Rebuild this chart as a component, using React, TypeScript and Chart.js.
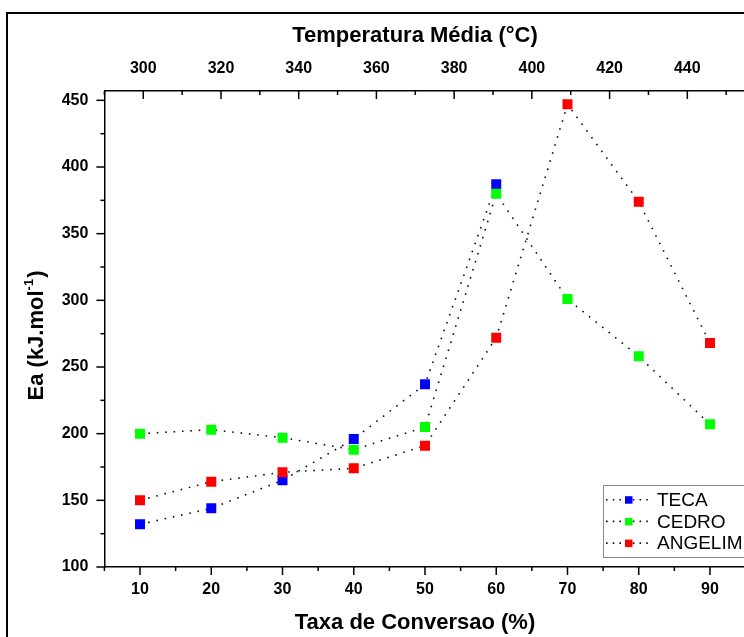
import React, { useEffect, useRef } from "react";
import { Chart, registerables } from "chart.js";

Chart.register(...registerables);

// ---- data ----
const conversion = [10, 20, 30, 40, 50, 60, 70, 80, 90];
const tecaEa = [132, 144, 165, 196, 237, 387];
const cedroEa = [200, 203, 197, 188, 205, 380, 301, 258, 207];
const angelimEa = [150, 164, 171, 174, 191, 272, 447, 374, 268];

const seriesNames = ["TECA", "CEDRO", "ANGELIM"];
const seriesColors = ["#0000ff", "#00ff00", "#ff0000"];

const xTicks = [10, 20, 30, 40, 50, 60, 70, 80, 90];
const xMinorTicks = [5, 15, 25, 35, 45, 55, 65, 75, 85, 95];
const yTicks = [100, 150, 200, 250, 300, 350, 400, 450];
const yMinorTicks = [125, 175, 225, 275, 325, 375, 425];
const tempTicks = [300, 320, 340, 360, 380, 400, 420, 440];
const tempMinorTicks = [290, 310, 330, 350, 370, 390, 410, 430, 450];

const xTitle = "Taxa de Conversao (%)";
const topTitle = "Temperatura Média (°C)";
const yTitleMain = "Ea (kJ.mol";
const yTitleSup = "-1";
const yTitleEnd = ")";

const FONT = "Arial, 'Liberation Sans', sans-serif";
const CW = 760;
const CH = 660;

const toPoints = (ys: number[]) => ys.map((y, i) => ({ x: conversion[i], y }));

const decorPlugin = {
  id: "decor",
  afterDraw(chart: any) {
    const ctx = chart.ctx as CanvasRenderingContext2D;
    const x = chart.scales.x;
    const x2 = chart.scales.x2;
    const y = chart.scales.y;
    const area = chart.chartArea;
    ctx.save();

    // outer frame
    ctx.strokeStyle = "#000";
    ctx.lineWidth = 2;
    ctx.strokeRect(7, 13, 900, 800);

    // ticks
    ctx.lineWidth = 1.5;
    ctx.strokeStyle = "#000";
    const line = (a: number, b: number, c: number, d: number) => {
      ctx.beginPath();
      ctx.moveTo(a, b);
      ctx.lineTo(c, d);
      ctx.stroke();
    };
    xTicks.forEach((v) => {
      const p = x.getPixelForValue(v);
      line(p, area.bottom, p, area.bottom + 8);
    });
    xMinorTicks.forEach((v) => {
      const p = x.getPixelForValue(v);
      line(p, area.bottom, p, area.bottom + 4);
    });
    tempTicks.forEach((v) => {
      const p = x2.getPixelForValue(v);
      line(p, area.top, p, area.top + 8);
    });
    tempMinorTicks.forEach((v) => {
      const p = x2.getPixelForValue(v);
      line(p, area.top, p, area.top + 4);
    });
    yTicks.forEach((v) => {
      const p = y.getPixelForValue(v);
      line(area.left - 8, p, area.left, p);
    });
    yMinorTicks.forEach((v) => {
      const p = y.getPixelForValue(v);
      line(area.left - 4, p, area.left, p);
    });

    // titles
    ctx.fillStyle = "#000";
    ctx.font = `bold 22px ${FONT}`;
    ctx.textAlign = "center";
    ctx.textBaseline = "middle";
    ctx.fillText(topTitle, 415, 36);
    ctx.fillText(xTitle, 415, 623);

    // y title with superscript
    ctx.save();
    ctx.translate(37, 336);
    ctx.rotate(-Math.PI / 2);
    ctx.textAlign = "left";
    ctx.font = `bold 22px ${FONT}`;
    const w1 = ctx.measureText(yTitleMain).width;
    const w3 = ctx.measureText(yTitleEnd).width;
    ctx.font = `bold 13px ${FONT}`;
    const w2 = ctx.measureText(yTitleSup).width;
    const start = -(w1 + w2 + w3) / 2;
    ctx.font = `bold 22px ${FONT}`;
    ctx.fillText(yTitleMain, start, 0);
    ctx.font = `bold 13px ${FONT}`;
    ctx.fillText(yTitleSup, start + w1, -8);
    ctx.font = `bold 22px ${FONT}`;
    ctx.fillText(yTitleEnd, start + w1 + w2 + 1, 0);
    ctx.restore();

    // legend
    ctx.strokeStyle = "#8a8a8a";
    ctx.lineWidth = 1;
    ctx.strokeRect(603.5, 485.5, 200, 72);
    seriesNames.forEach((name, i) => {
      const cy = 499.7 + i * 21.7;
      ctx.save();
      ctx.strokeStyle = "#111";
      ctx.lineWidth = 1.6;
      ctx.setLineDash([1.6, 5.1]);
      ctx.beginPath();
      ctx.moveTo(606, cy);
      ctx.lineTo(652, cy);
      ctx.stroke();
      ctx.restore();
      ctx.fillStyle = seriesColors[i];
      ctx.fillRect(625, cy - 3.5, 7.5, 7.5);
      ctx.fillStyle = "#000";
      ctx.font = `19px ${FONT}`;
      ctx.textAlign = "left";
      ctx.textBaseline = "middle";
      ctx.fillText(name, 657, cy + 1);
    });

    ctx.restore();
  },
};

export default function App() {
  const ref = useRef<HTMLCanvasElement | null>(null);

  useEffect(() => {
    document.body.style.margin = "0";
    const canvas = ref.current;
    if (!canvas) return;
    const seriesData = [tecaEa, cedroEa, angelimEa];
    const orders = [3, 2, 1];
    const tickFont = { family: FONT, size: 16, weight: "bold" as const };
    const chart = new Chart(canvas, {
      type: "scatter",
      data: {
        datasets: seriesData.map((ys, i) => ({
          label: seriesNames[i],
          data: toPoints(ys),
          showLine: true,
          order: orders[i],
          borderColor: "#111",
          borderWidth: 1.6,
          borderDash: [1.6, 6.8],
          tension: 0,
          fill: false,
          pointStyle: "rect",
          pointRadius: 7.07,
          pointHoverRadius: 7.07,
          pointBackgroundColor: seriesColors[i],
          pointBorderColor: seriesColors[i],
          pointBorderWidth: 0,
          xAxisID: "x",
          yAxisID: "y",
        })),
      },
      options: {
        animation: false,
        responsive: false,
        devicePixelRatio: 1,
        layout: { padding: { left: 0, top: 0, right: CW - 745.6, bottom: 0 }, autoPadding: false },
        plugins: { legend: { display: false }, tooltip: { enabled: false } },
        events: [],
        scales: {
          x: {
            type: "linear",
            position: "bottom",
            min: 5,
            max: 95,
            afterBuildTicks: (s: any) => {
              s.ticks = xTicks.map((v) => ({ value: v }));
            },
            afterFit: (s: any) => {
              s.height = CH - 567;
            },
            ticks: { font: tickFont, color: "#000", padding: 13.4, autoSkip: false, maxRotation: 0 },
            grid: { display: false, drawTicks: false },
            border: { display: true, color: "#000", width: 1.5 },
          },
          x2: {
            type: "linear",
            position: "top",
            min: 290,
            max: 455,
            afterBuildTicks: (s: any) => {
              s.ticks = tempTicks.map((v) => ({ value: v }));
            },
            afterFit: (s: any) => {
              s.height = 91;
            },
            ticks: { font: tickFont, color: "#000", padding: 12.4, autoSkip: false, maxRotation: 0 },
            grid: { display: false, drawTicks: false },
            border: { display: true, color: "#000", width: 1.5 },
          },
          y: {
            type: "linear",
            position: "left",
            min: 100,
            max: 457,
            afterBuildTicks: (s: any) => {
              s.ticks = yTicks.map((v) => ({ value: v }));
            },
            afterFit: (s: any) => {
              s.width = 104.4;
            },
            ticks: { font: tickFont, color: "#000", padding: 16, autoSkip: false },
            grid: { display: false, drawTicks: false },
            border: { display: true, color: "#000", width: 1.5 },
          },
        },
      } as any,
      plugins: [decorPlugin],
    });
    return () => chart.destroy();
  }, []);

  return (
    <div
      style={{
        position: "fixed",
        left: 0,
        top: 0,
        width: 744,
        height: 637,
        overflow: "hidden",
        background: "#fff",
      }}
    >
      <canvas ref={ref} width={CW} height={CH} style={{ width: CW, height: CH, display: "block" }} />
    </div>
  );
}
